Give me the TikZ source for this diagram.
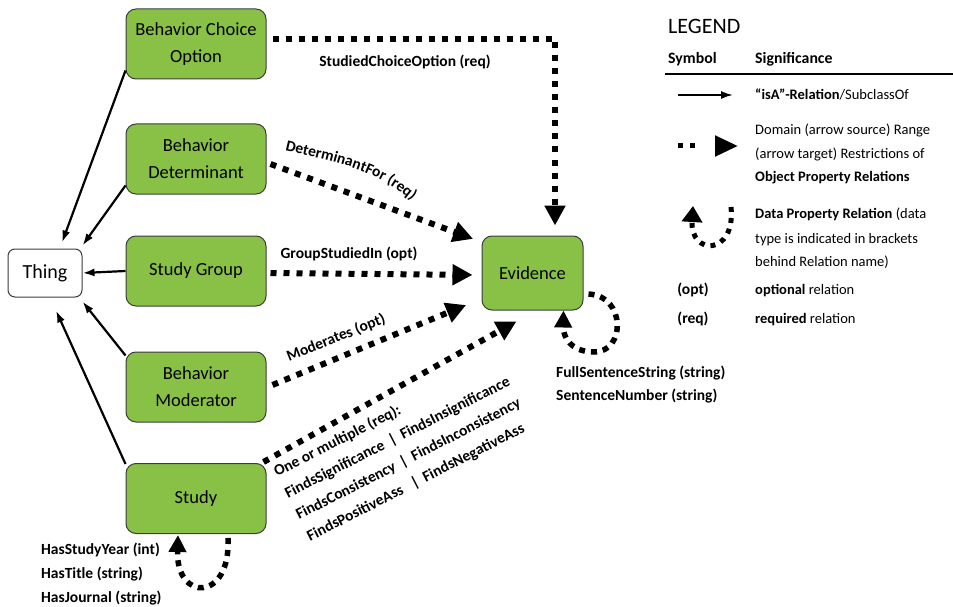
\documentclass[tikz,border=0pt]{standalone}
\usepackage{fontspec}
\setmainfont{Carlito}
\usetikzlibrary{arrows.meta,decorations.text}
\definecolor{leaf}{RGB}{137,193,70}
\definecolor{rim}{RGB}{60,60,60}

\begin{document}
\begin{tikzpicture}[x=1pt,y=-1pt,
  cls/.style={draw=rim, fill=leaf, line width=1pt, rounded corners=10pt,
    minimum width=140pt, minimum height=70pt, align=center,
    font=\fontsize{18.5}{27}\selectfont, inner sep=2pt},
  root/.style={draw=rim, fill=white, line width=1pt, rounded corners=7pt,
    minimum width=74pt, minimum height=48pt, font=\fontsize{20}{24}\selectfont},
  isa/.style={line width=2.2pt, -{Latex[length=12pt,width=8pt]}},
  objrel/.style={line width=6pt, dash pattern=on 6pt off 7pt,
    -{Triangle[length=20pt,width=20pt]}},
  datarel/.style={line width=5.5pt, dash pattern=on 6pt off 6pt,
    -{Triangle[length=17pt,width=17pt]}},
  lbl/.style={font=\fontsize{15.5}{24}\selectfont\bfseries, inner sep=0pt},
  txt/.style={font=\fontsize{14.5}{24}\selectfont, inner sep=0pt, anchor=base west},
]
\useasboundingbox (0,0) rectangle (953,607);

% classes
\node[cls] (bco) at (196,44) {Behavior Choice\\Option};
\node[cls] (bd)  at (196,159) {Behavior\\Determinant};
\node[cls] (sg)  at (196,271) {Study Group};
\node[cls] (bm)  at (196,387) {Behavior\\Moderator};
\node[cls] (st)  at (196,498.5) {Study};
\node[root] (thing) at (45,273) {Thing};
\node[cls, minimum width=101pt, minimum height=74pt] (ev) at (532.5,273) {Evidence};

% subclass relations
\draw[isa] ([yshift=9pt]bco.south west) -- ([xshift=17pt,yshift=6pt]thing.north);
\draw[isa] ([yshift=9pt]bd.south west) -- ([yshift=3pt]thing.north east);
\draw[isa] (sg.west) -- (thing.east);
\draw[isa] ([yshift=-4pt]bm.north west) -- ([yshift=-4pt]thing.south east);
\draw[isa] ([yshift=-1pt]st.north west) -- ([xshift=11pt,yshift=-13pt]thing.south);

% object property relations
\draw[objrel, shorten >=10pt] ([xshift=6pt,yshift=5pt]bco.east) -| ([xshift=22.5pt]ev.north);
\draw[objrel, shorten >=9pt] ([xshift=4pt,yshift=-5pt]bd.east) -- ([yshift=31pt]ev.west);
\draw[objrel, shorten >=9pt] ([xshift=4pt,yshift=-2pt]sg.east) -- ([yshift=-2pt]ev.west);
\draw[objrel, shorten >=8pt] ([xshift=6pt,yshift=2pt]bm.east) -- ([xshift=-8pt,yshift=-29pt]ev.west);
\draw[objrel, shorten >=8pt] ([xshift=-3pt,yshift=1pt]st.north east) -- ([xshift=-9pt,yshift=-7pt]ev.south);

% relation labels
\node[lbl] (l1) at (405,62) {StudiedChoiceOption (req)};
\path[decorate, decoration={text along path, text align=left,
    text={|\fontsize{15.5}{16}\selectfont\bfseries|DeterminantFor (req)}}]
  (285,150) .. controls (330,161) and (376,168) .. (414,203);
\node[lbl] (l3) at (349,254) {GroupStudiedIn (opt)};
\node[lbl, rotate=22, anchor=base west] (l4) at (289,362) {Moderates (opt)};
\node[lbl, rotate=27, anchor=base west] (l5a) at (277,477) {One or multiple (req):};
\node[lbl, rotate=27, anchor=base west] (l5b) at (288,498.5) {FindsSignificance \,|\, FindsInsignificance};
\node[lbl, rotate=27, anchor=base west] (l5c) at (299,520) {FindsConsistency \,|\, FindsInconsistency};
\node[lbl, rotate=27, anchor=base west] (l5d) at (310,541.5) {FindsPositiveAss \;\,|\, FindsNegativeAss};

% data property relations
\draw[datarel] ([xshift=32pt,yshift=-4pt]st.south) .. controls (231,602) and (176,602) .. ([xshift=-18pt,yshift=-1pt]st.south);
\draw[datarel] ([xshift=5pt,yshift=-21pt]ev.east) .. controls (626,296) and (626,352) .. (594,352)
  .. controls (570,352) and (563,336) .. ([xshift=31pt]ev.south);

\node[lbl, anchor=base west] (d1) at (41,554) {HasStudyYear (int)};
\node[lbl, anchor=base west] (d2) at (41,578) {HasTitle (string)};
\node[lbl, anchor=base west] (d3) at (41,602) {HasJournal (string)};
\node[lbl, anchor=base west] (d4) at (556,377) {FullSentenceString (string)};
\node[lbl, anchor=base west] (d5) at (556,400) {SentenceNumber (string)};

% legend
\node[txt, font=\fontsize{22}{24}\selectfont] (lg) at (668,34) {LEGEND};
\node[txt, font=\fontsize{15.8}{24}\selectfont\bfseries] (ls) at (668,64) {Symbol};
\node[txt, font=\fontsize{15.8}{24}\selectfont\bfseries] (lsig) at (755,64) {Significance};
\coordinate (r0) at (665,74);
\coordinate (r1) at (953,74);
\draw[line width=1.2pt] (r0) -- (r1);

\coordinate (a0) at (678,95);
\coordinate (a1) at (733,95);
\draw[isa, line width=1.8pt] (a0) -- (a1);
\node[txt] (t1) at (755,100) {\textbf{“isA”-Relation}/SubclassOf};

\coordinate (b0) at (678,146);
\coordinate (b1) at (738,146);
\draw[line width=5pt, dash pattern=on 5pt off 7pt on 5pt off 30pt,
  -{Triangle[length=23pt,width=20pt]}] (b0) -- (b1);
\node[txt] (t2) at (755,135) {Domain (arrow source) Range};
\node[txt] (t3) at (755,158) {(arrow target) Restrictions of};
\node[txt] (t4) at (755,182) {\textbf{Object Property Relations}};

\coordinate (c0) at (731,207);
\coordinate (c1) at (693,206);
\draw[datarel, line width=5pt, dash pattern=on 5pt off 6pt,
  -{Triangle[length=16pt,width=20pt]}] (c0) .. controls (736,256) and (690,256) .. (c1);
\node[txt] (t5) at (755,218) {\textbf{Data Property Relation} (data};
\node[txt] (t6) at (755,243) {type is indicated in brackets};
\node[txt] (t7) at (755,266) {behind Relation name)};

\node[lbl, anchor=base] (o1) at (693,294) {(opt)};
\node[txt] (t8) at (755,294) {\textbf{optional} relation};
\node[lbl, anchor=base] (o2) at (693,323) {(req)};
\node[txt] (t9) at (755,323) {\textbf{required} relation};
\end{tikzpicture}
\end{document}
